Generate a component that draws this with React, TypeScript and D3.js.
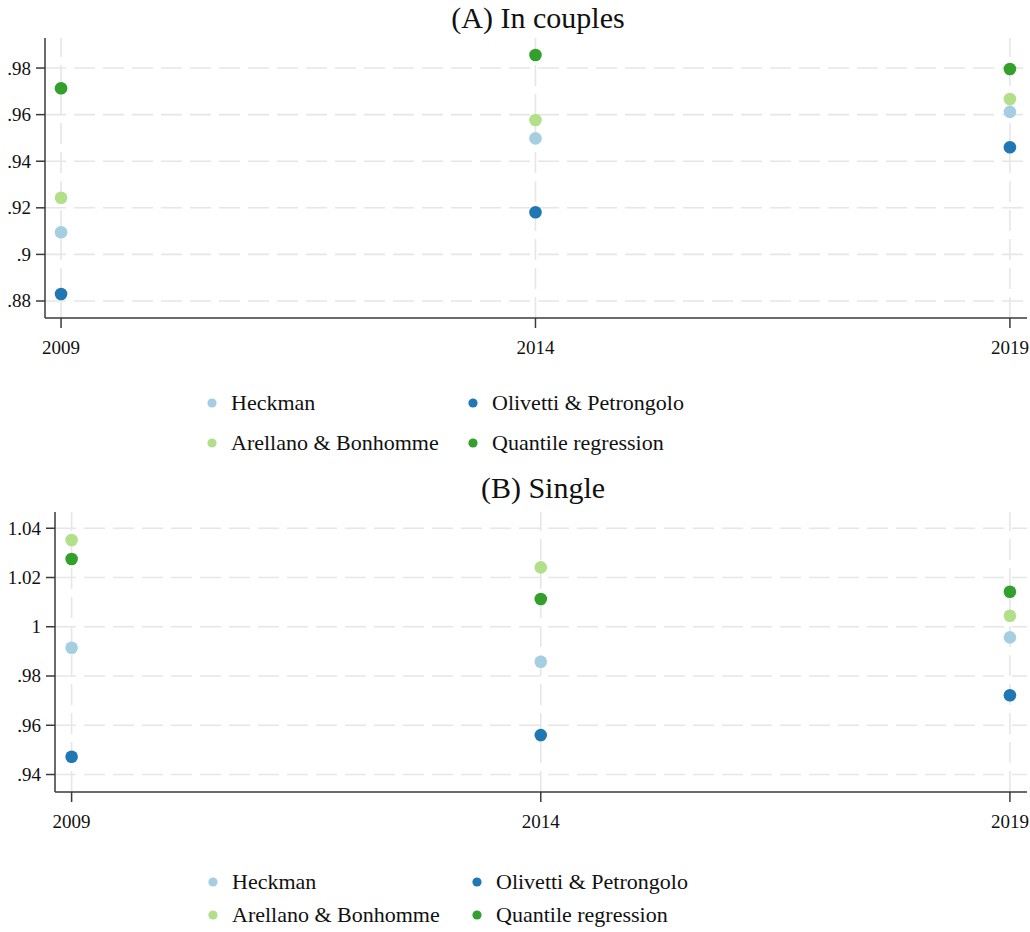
import React from "react";
import * as d3 from "d3";

// Years on the x axis
const years = [2009, 2014, 2019];

// Estimator names and colours (legend order: left column, then right column)
const seriesNames = ["Heckman", "Olivetti & Petrongolo", "Arellano & Bonhomme", "Quantile regression"];
const seriesColors = ["#a6cee3", "#1f78b4", "#b2df8a", "#33a02c"];

// Panel A: in couples (values per year, 2009 / 2014 / 2019)
const couplesHeckman = [0.9095, 0.9498, 0.9612];
const couplesOlivetti = [0.883, 0.9181, 0.946];
const couplesArellano = [0.9243, 0.9577, 0.9667];
const couplesQuantile = [0.9713, 0.9856, 0.9796];

// Panel B: single
const singleHeckman = [0.9915, 0.9858, 0.9957];
const singleOlivetti = [0.9472, 0.956, 0.9722];
const singleArellano = [1.0352, 1.0241, 1.0045];
const singleQuantile = [1.0275, 1.0113, 1.0142];

// Y tick values and labels
const couplesTicks = [0.88, 0.9, 0.92, 0.94, 0.96, 0.98];
const couplesTickLabels = [".88", ".9", ".92", ".94", ".96", ".98"];
const singleTicks = [0.94, 0.96, 0.98, 1.0, 1.02, 1.04];
const singleTickLabels = [".94", ".96", ".98", "1", "1.02", "1.04"];

const FONT = "'Liberation Serif', 'Times New Roman', serif";

type PanelProps = {
  title: string;
  titleY: number;
  series: number[][];
  ticks: number[];
  tickLabels: string[];
  yDomain: [number, number];
  left: number;
  right: number;
  top: number;
  bottom: number;
  xPad: [number, number];
  tickLabelY: number;
  legendRows: [number, number];
  legendX: [number, number];
};

function Panel(p: PanelProps) {
  const x = d3.scaleLinear().domain(p.xPad).range([p.left, p.right]);
  const y = d3.scaleLinear().domain(p.yDomain).range([p.bottom, p.top]);
  const axisColor = "#3a3a3a";
  const gridColor = "#e6e6e6";
  // series order in the data arrays: Heckman, Olivetti, Arellano, Quantile
  const drawOrder = [0, 1, 2, 3];
  return (
    <g>
      <text
        x={(p.left + p.right) / 2 + 2}
        y={p.titleY}
        textAnchor="middle"
        fontFamily={FONT}
        fontSize={30}
        fill="#111"
      >
        {p.title}
      </text>
      {/* grid */}
      {p.ticks.map((t) => (
        <line
          key={"h" + t}
          x1={p.left}
          x2={p.right}
          y1={y(t)}
          y2={y(t)}
          stroke={gridColor}
          strokeWidth={1.6}
          strokeDasharray="21 8"
        />
      ))}
      {years.map((yr) => (
        <line
          key={"v" + yr}
          x1={x(yr)}
          x2={x(yr)}
          y1={p.bottom}
          y2={p.top}
          stroke={gridColor}
          strokeWidth={1.6}
          strokeDasharray="21 8"
        />
      ))}
      {/* axes */}
      <line x1={p.left} x2={p.left} y1={p.top} y2={p.bottom} stroke={axisColor} strokeWidth={1.5} />
      <line x1={p.left} x2={p.right} y1={p.bottom} y2={p.bottom} stroke={axisColor} strokeWidth={1.5} />
      {p.ticks.map((t, i) => (
        <g key={"yt" + t}>
          <line x1={p.left - 9} x2={p.left} y1={y(t)} y2={y(t)} stroke={axisColor} strokeWidth={1.5} />
          <text
            x={p.left - 14}
            y={y(t)}
            dy="0.34em"
            textAnchor="end"
            fontFamily={FONT}
            fontSize={19}
            fill="#111"
          >
            {p.tickLabels[i]}
          </text>
        </g>
      ))}
      {years.map((yr) => (
        <g key={"xt" + yr}>
          <line x1={x(yr)} x2={x(yr)} y1={p.bottom} y2={p.bottom + 10} stroke={axisColor} strokeWidth={1.5} />
          <text x={x(yr)} y={p.tickLabelY} textAnchor="middle" fontFamily={FONT} fontSize={19} fill="#111">
            {yr}
          </text>
        </g>
      ))}
      {/* points */}
      {drawOrder.map((si) =>
        p.series[si].map((v, j) => (
          <circle key={si + "-" + j} cx={x(years[j])} cy={y(v)} r={6.3} fill={seriesColors[si]} />
        ))
      )}
      {/* legend: 2 x 2 */}
      {seriesNames.map((name, i) => {
        const col = i % 2;
        const row = Math.floor(i / 2);
        const lx = p.legendX[col];
        const ly = p.legendRows[row];
        return (
          <g key={name}>
            <circle cx={lx} cy={ly} r={4.6} fill={seriesColors[i]} />
            <text x={lx + 19} y={ly} dy="0.33em" fontFamily={FONT} fontSize={22} fill="#111">
              {name}
            </text>
          </g>
        );
      })}
    </g>
  );
}

export default function App() {
  // legend order maps to data arrays: Heckman, Olivetti, Arellano, Quantile
  const couples = [couplesHeckman, couplesOlivetti, couplesArellano, couplesQuantile];
  const single = [singleHeckman, singleOlivetti, singleArellano, singleQuantile];
  return (
    <svg
      width={1030}
      height={932}
      style={{ position: "absolute", left: 0, top: 0, display: "block", background: "#fff" }}
    >
      <rect width={1030} height={932} fill="#fff" />
      <Panel
        title="(A) In couples"
        titleY={28}
        series={couples}
        ticks={couplesTicks}
        tickLabels={couplesTickLabels}
        yDomain={[0.8727, 0.9929]}
        left={45}
        right={1027}
        top={38}
        bottom={318}
        xPad={[2008.831, 2019.18]}
        tickLabelY={354}
        legendRows={[403, 443]}
        legendX={[212, 473]}
      />
      <Panel
        title="(B) Single"
        titleY={498}
        series={single}
        ticks={singleTicks}
        tickLabels={singleTickLabels}
        yDomain={[0.9329, 1.0466]}
        left={55}
        right={1027}
        top={512}
        bottom={792}
        xPad={[2008.823, 2019.182]}
        tickLabelY={828}
        legendRows={[882, 915]}
        legendX={[213, 477]}
      />
    </svg>
  );
}
